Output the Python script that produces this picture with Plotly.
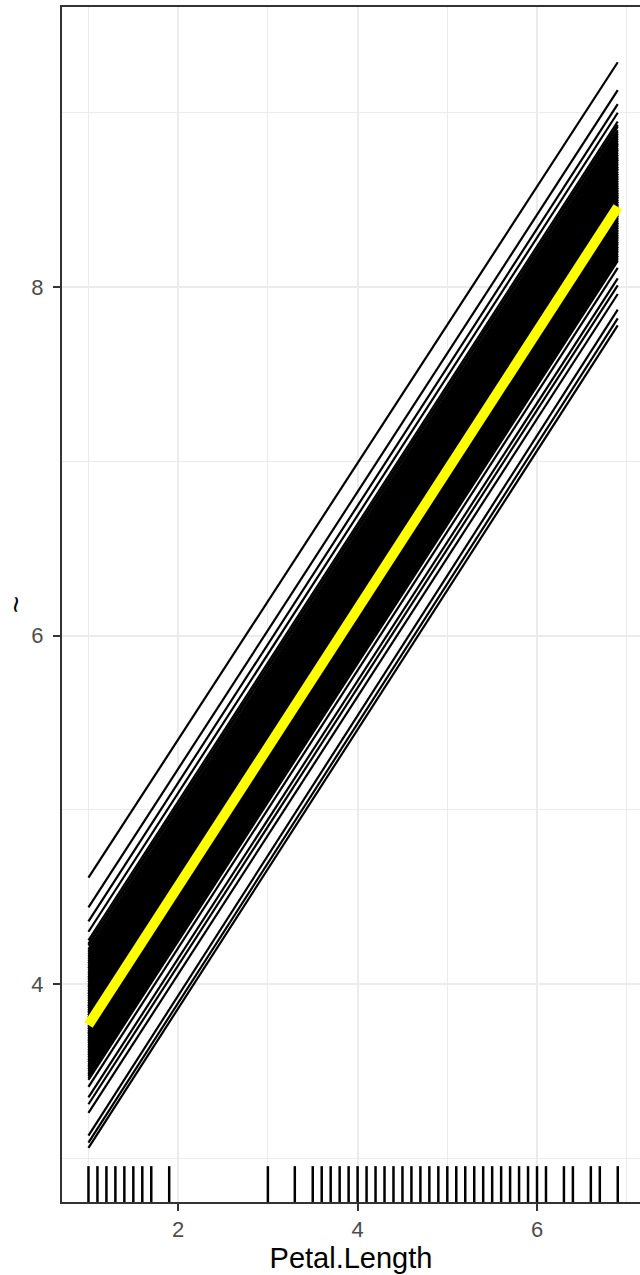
import plotly.graph_objects as go

# grid of Petal.Length at which ICE curves were evaluated (ends of the straight ICE lines)
grid_x = [1.0, 6.9]

# ICE predictions at Petal.Length = 1.0 (one per observation)
ice_start = [
    4.61, 4.44, 4.36, 4.30, 4.25,
    4.23, 4.22, 4.20,
    4.19, 4.18, 4.17, 4.16, 4.15,
    4.14, 4.13, 4.12, 4.12, 4.11, 4.10,
    4.09, 4.09, 4.08, 4.07, 4.06, 4.06, 4.05,
    4.04, 4.04, 4.03, 4.03, 4.02, 4.01, 4.01, 4.00,
    3.99, 3.99, 3.98, 3.98, 3.97, 3.96, 3.96, 3.95, 3.95,
    3.94, 3.94, 3.93, 3.93, 3.92, 3.92, 3.91, 3.91, 3.90, 3.90,
    3.89, 3.89, 3.88, 3.88, 3.87, 3.87, 3.87, 3.86, 3.86, 3.85, 3.85,
    3.84, 3.84, 3.84, 3.83, 3.83, 3.82, 3.82, 3.82, 3.81, 3.81, 3.80, 3.80,
    3.79, 3.79, 3.79, 3.78, 3.78, 3.77, 3.77, 3.77, 3.76, 3.76, 3.75, 3.75,
    3.74, 3.74, 3.74, 3.73, 3.73, 3.72, 3.72, 3.72, 3.71, 3.71, 3.70, 3.70,
    3.69, 3.69, 3.68, 3.68, 3.67, 3.67, 3.67, 3.66, 3.66, 3.65, 3.65,
    3.64, 3.64, 3.63, 3.63, 3.62, 3.62, 3.61, 3.61, 3.60, 3.60,
    3.59, 3.59, 3.58, 3.58, 3.57, 3.56, 3.56, 3.55, 3.55,
    3.54, 3.53, 3.53, 3.52, 3.51, 3.51, 3.50,
    3.49, 3.48, 3.48, 3.47, 3.46, 3.45,
    3.41, 3.35, 3.31, 3.26, 3.13, 3.09, 3.06,
]

# ICE predictions at Petal.Length = 6.9 (same observations, same order)
ice_end = [
    9.29, 9.13, 9.05, 9.00, 8.95,
    8.93, 8.92, 8.90,
    8.89, 8.88, 8.87, 8.86, 8.85,
    8.84, 8.83, 8.82, 8.82, 8.81, 8.80,
    8.79, 8.79, 8.78, 8.77, 8.76, 8.76, 8.75,
    8.74, 8.74, 8.73, 8.73, 8.72, 8.71, 8.71, 8.70,
    8.69, 8.69, 8.68, 8.68, 8.67, 8.66, 8.66, 8.65, 8.65,
    8.64, 8.64, 8.63, 8.63, 8.62, 8.62, 8.61, 8.61, 8.60, 8.60,
    8.59, 8.59, 8.58, 8.58, 8.57, 8.57, 8.57, 8.56, 8.56, 8.55, 8.55,
    8.54, 8.54, 8.54, 8.53, 8.53, 8.52, 8.52, 8.52, 8.51, 8.51, 8.50, 8.50,
    8.49, 8.49, 8.49, 8.48, 8.48, 8.47, 8.47, 8.47, 8.46, 8.46, 8.45, 8.45,
    8.44, 8.44, 8.44, 8.43, 8.43, 8.42, 8.42, 8.42, 8.41, 8.41, 8.40, 8.40,
    8.39, 8.39, 8.38, 8.38, 8.37, 8.37, 8.37, 8.36, 8.36, 8.35, 8.35,
    8.34, 8.34, 8.33, 8.33, 8.32, 8.32, 8.31, 8.31, 8.30, 8.30,
    8.29, 8.29, 8.28, 8.28, 8.27, 8.26, 8.26, 8.25, 8.25,
    8.24, 8.23, 8.23, 8.22, 8.21, 8.21, 8.20,
    8.19, 8.18, 8.18, 8.17, 8.16, 8.15,
    8.11, 8.05, 8.01, 7.96, 7.87, 7.82, 7.78,
]

# partial dependence (average) at the grid ends
pdp_y = [3.765, 8.46]

# observed Petal.Length values (rug)
rug_x = [1.0, 1.1, 1.2, 1.3, 1.4, 1.5, 1.6, 1.7, 1.9, 3.0, 3.3, 3.5, 3.6, 3.7,
         3.8, 3.9, 4.0, 4.1, 4.2, 4.3, 4.4, 4.5, 4.6, 4.7, 4.8, 4.9, 5.0, 5.1,
         5.2, 5.3, 5.4, 5.5, 5.6, 5.7, 5.8, 5.9, 6.0, 6.1, 6.3, 6.4, 6.6, 6.7, 6.9]

x_ticks = [2, 4, 6]
x_minor = [1, 3, 5, 7]
y_ticks = [4, 6, 8]
y_minor = [3, 5, 7, 9]

fig = go.Figure()

xs, ys = [], []
for s, e in zip(ice_start, ice_end):
    xs += [grid_x[0], grid_x[1], None]
    ys += [s, e, None]

fig.add_trace(go.Scatter(x=xs, y=ys, mode="lines",
                         line=dict(color="black", width=2.2),
                         hoverinfo="skip", showlegend=False))
fig.add_trace(go.Scatter(x=grid_x, y=pdp_y, mode="lines",
                         line=dict(color="#FFFF00", width=10),
                         hoverinfo="skip", showlegend=False))

for r in rug_x:
    fig.add_shape(type="line", xref="x", yref="y domain",
                  x0=r, x1=r, y0=0, y1=0.03,
                  line=dict(color="black", width=2.5))

grid_col = "#EBEBEB"
axis_col = "#333333"
tick_font = dict(size=22, color="#4D4D4D")

fig.update_layout(
    width=640, height=1275,
    margin=dict(l=62, r=0, t=7, b=73, autoexpand=False),
    paper_bgcolor="white", plot_bgcolor="white",
    font=dict(family="Liberation Sans, Arial, sans-serif"),
    showlegend=False,
    xaxis=dict(
        range=[0.705, 7.148], tickvals=x_ticks, ticktext=[str(v) for v in x_ticks],
        showgrid=True, gridcolor=grid_col, gridwidth=2,
        minor=dict(tickvals=x_minor, showgrid=True, gridcolor=grid_col, gridwidth=1, ticks=""),
        zeroline=False, showline=True, linecolor=axis_col, linewidth=2, mirror=True,
        ticks="outside", ticklen=7, tickwidth=2, tickcolor=axis_col,
        tickfont=tick_font, automargin=False,
        title=dict(text="Petal.Length", font=dict(size=29, color="black"), standoff=4),
    ),
    yaxis=dict(
        range=[2.749, 9.607], tickvals=y_ticks, ticktext=[str(v) for v in y_ticks],
        showgrid=True, gridcolor=grid_col, gridwidth=2,
        minor=dict(tickvals=y_minor, showgrid=True, gridcolor=grid_col, gridwidth=1, ticks=""),
        zeroline=False, showline=True, linecolor=axis_col, linewidth=2, mirror=False,
        ticks="outside", ticklen=7, tickwidth=2, tickcolor=axis_col,
        tickfont=tick_font, ticklabelstandoff=5, automargin=False,
        title=dict(text="~", font=dict(size=29, color="black"), standoff=10),
    ),
)

fig.write_html("out.html", config={"displayModeBar": False},
               post_script="document.body.style.margin='0px';")
